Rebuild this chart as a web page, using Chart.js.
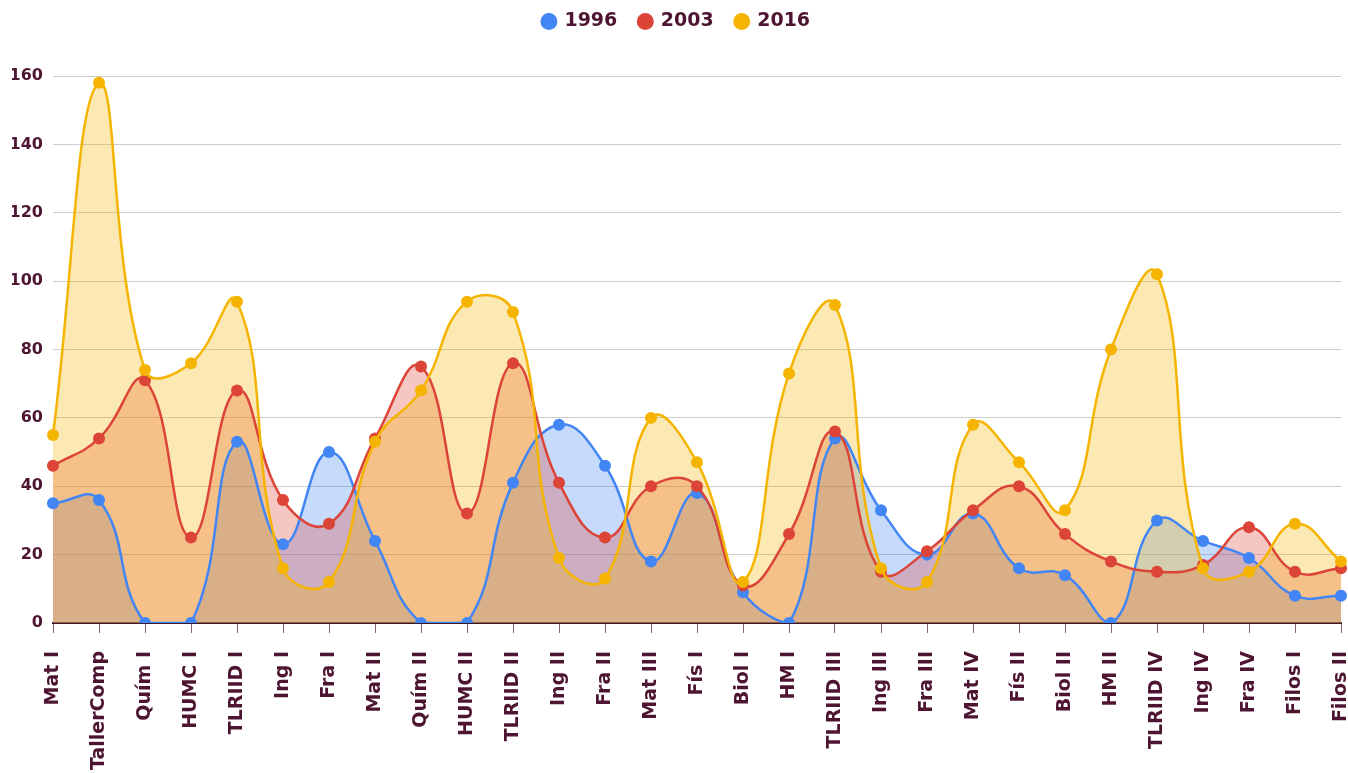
<!DOCTYPE html>
<html>
<head>
<meta charset="utf-8">
<script src="https://cdn.jsdelivr.net/npm/chart.js@4/dist/chart.umd.min.js"></script>
<style>
  html, body { margin: 0; padding: 0; background: #fff; }
  #wrap { width: 1348px; height: 773px; position: relative; }
</style>
</head>
<body>
<div id="wrap"><canvas id="chart"></canvas></div>
<script>
var categories = ['Mat I', 'TallerComp', 'Quím I', 'HUMC I', 'TLRIID I', 'Ing I', 'Fra I', 'Mat II',
  'Quím II', 'HUMC II', 'TLRIID II', 'Ing II', 'Fra II', 'Mat III', 'Fís I', 'Biol I', 'HM I',
  'TLRIID III', 'Ing III', 'Fra III', 'Mat IV', 'Fís II', 'Biol II', 'HM II', 'TLRIID IV',
  'Ing IV', 'Fra IV', 'Filos I', 'Filos II'];

var values1996 = [35, 36, 0, 0, 53, 23, 50, 24, 0, 0, 41, 58, 46, 18, 38, 9, 0,
  54, 33, 20, 32, 16, 14, 0, 30, 24, 19, 8, 8];
var values2003 = [46, 54, 71, 25, 68, 36, 29, 54, 75, 32, 76, 41, 25, 40, 40, 11, 26,
  56, 15, 21, 33, 40, 26, 18, 15, 17, 28, 15, 16];
var values2016 = [55, 158, 74, 76, 94, 16, 12, 53, 68, 94, 91, 19, 13, 60, 47, 12, 73,
  93, 16, 12, 58, 47, 33, 80, 102, 16, 15, 29, 18];

var yTicks = [0, 20, 40, 60, 80, 100, 120, 140, 160];

var textColor = '#4d1531';
var fontFamily = "'DejaVu Sans', Verdana, sans-serif";

function series(label, data, color, fill, order) {
  return {
    label: label,
    data: data,
    borderColor: color,
    backgroundColor: fill,
    pointBackgroundColor: color,
    pointBorderColor: color,
    pointBorderWidth: 0,
    pointRadius: 6,
    borderWidth: 2.5,
    tension: 0.45,
    fill: 'origin',
    order: order
  };
}

// extra room under the legend
var legendGap = {
  id: 'legendGap',
  beforeInit: function(chart) {
    var fit = chart.legend.fit;
    chart.legend.fit = function() {
      fit.bind(chart.legend)();
      this.height += 35;
    };
  }
};

var ctx = document.getElementById('chart').getContext('2d');
var chart = new Chart(ctx, {
  type: 'line',
  plugins: [legendGap],
  data: {
    labels: categories,
    datasets: [
      series('1996', values1996, '#4285f4', 'rgba(66,133,244,0.3)', 3),
      series('2003', values2003, '#db4437', 'rgba(219,68,55,0.3)', 2),
      series('2016', values2016, '#f4b400', 'rgba(244,180,0,0.3)', 1)
    ]
  },
  options: {
    responsive: true,
    maintainAspectRatio: false,
    animation: false,
    layout: { padding: { top: -10, right: 7, left: 12, bottom: 0 } },
    plugins: {
      filler: { drawTime: 'beforeDatasetsDraw' },
      tooltip: { enabled: false },
      legend: {
        position: 'top',
        labels: {
          usePointStyle: true,
          pointStyle: 'circle',
          boxWidth: 12,
          boxHeight: 12,
          padding: 22,
          color: textColor,
          font: { family: fontFamily, size: 19, weight: 'bold' },
          sort: function(a, b) { return a.datasetIndex - b.datasetIndex; }
        }
      }
    },
    scales: {
      x: {
        offset: false,
        afterFit: function(axis) {
          axis.height = 150;
          axis.paddingLeft = 0;
          axis.paddingRight = 0;
        },
        grid: {
          drawOnChartArea: false,
          drawTicks: true,
          tickLength: 10,
          color: '#8a6079'
        },
        border: { display: true, color: '#3a1a2a', width: 2 },
        ticks: {
          autoSkip: false,
          maxRotation: 90,
          minRotation: 90,
          padding: 18,
          color: textColor,
          font: { family: fontFamily, size: 19, weight: 'bold' }
        }
      },
      y: {
        min: 0,
        max: 160,
        afterBuildTicks: function(axis) {
          axis.ticks = yTicks.map(function(v) { return { value: v }; });
        },
        afterFit: function(axis) { axis.width = 41; },
        grid: { color: '#cccccc', drawTicks: false, lineWidth: 1 },
        border: { display: false },
        ticks: {
          padding: 10,
          color: textColor,
          font: { family: fontFamily, size: 16, weight: 'bold' }
        }
      }
    }
  }
});
</script>
</body>
</html>
